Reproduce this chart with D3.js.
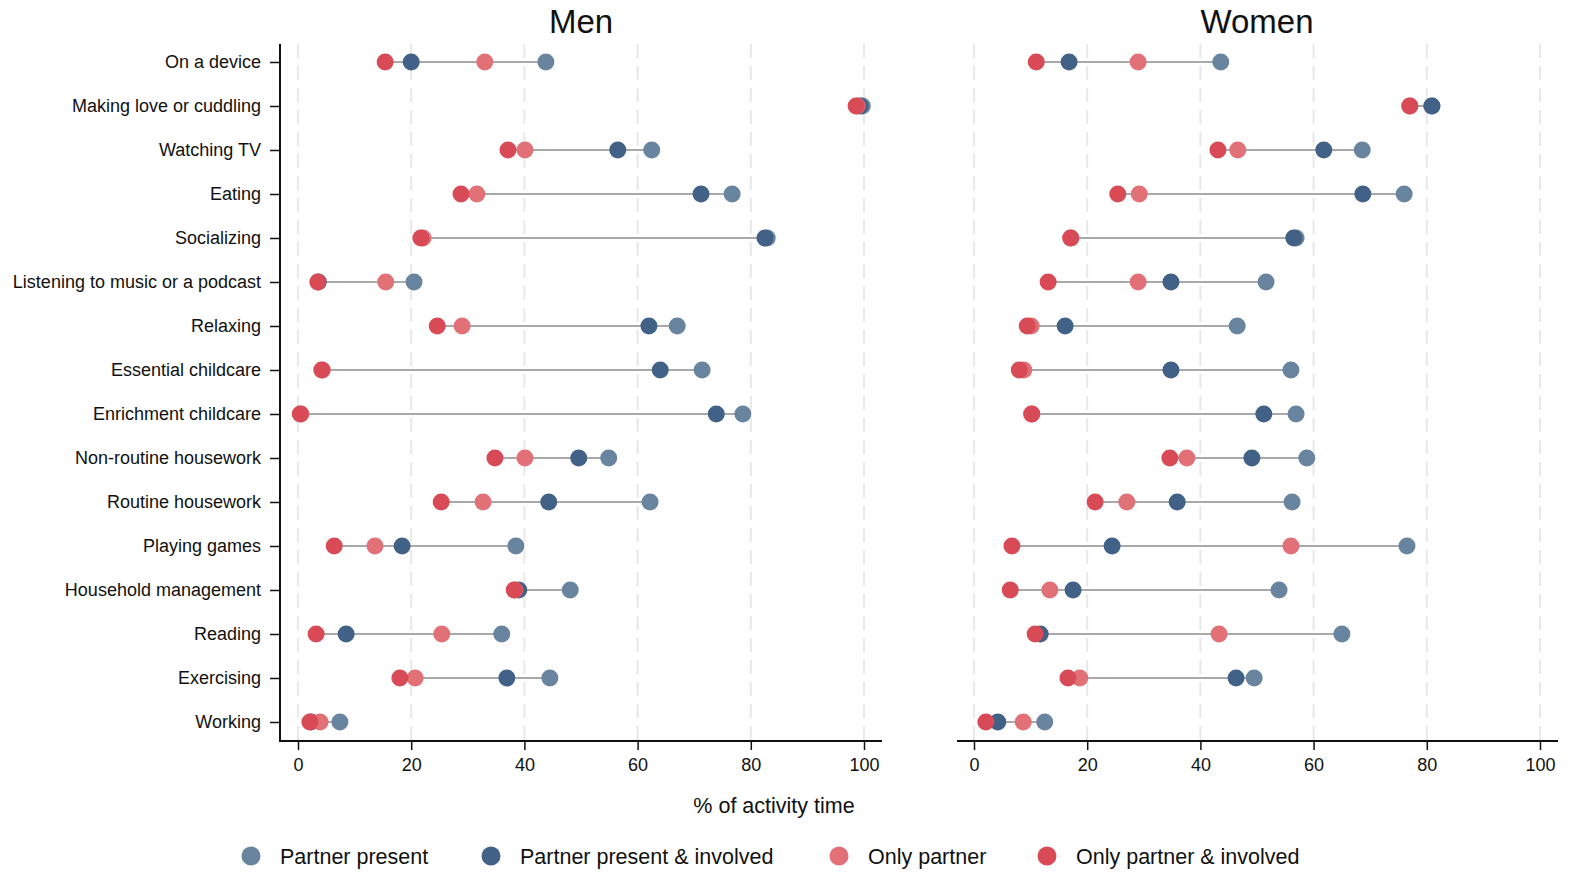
<html>
<head>
    <script src="https://d3js.org/d3.v7.min.js"></script>
    <style>
        html, body { margin: 0; padding: 0; background: #fff; overflow: hidden; }
        svg { display: block; }
        text { font-family: "Liberation Sans", Arial, sans-serif; fill: #111; }
    </style>
</head>
<body>
    <svg id="svgMain" width="1580" height="879"></svg>

    <script id="scriptMain">

        // data
        const activities = ["On a device", "Making love or cuddling", "Watching TV", "Eating", "Socializing",
            "Listening to music or a podcast", "Relaxing", "Essential childcare", "Enrichment childcare",
            "Non-routine housework", "Routine housework", "Playing games", "Household management",
            "Reading", "Exercising", "Working"];

        const seriesNames = ["Partner present", "Partner present & involved", "Only partner", "Only partner & involved"];
        const seriesColors = ["#69849e", "#426186", "#e27077", "#d84a55"];

        const menPresent = [43.8, 99.7, 62.5, 76.7, 82.9, 20.5, 67.0, 71.4, 78.6, 54.9, 62.2, 38.5, 48.1, 36.0, 44.5, 7.4];
        const menPresentInv = [20.0, 99.3, 56.5, 71.2, 82.5, 3.6, 62.0, 64.0, 73.9, 49.6, 44.3, 18.4, 39.0, 8.5, 36.9, 2.3];
        const menOnly = [33.0, 98.8, 40.1, 31.6, 22.1, 15.5, 29.0, 4.3, 0.5, 40.1, 32.7, 13.6, 38.3, 25.4, 20.7, 3.9];
        const menOnlyInv = [15.4, 98.6, 37.1, 28.8, 21.7, 3.5, 24.6, 4.2, 0.4, 34.8, 25.3, 6.4, 38.2, 3.2, 18.0, 2.1];

        const womenPresent = [43.6, 80.9, 68.6, 76.0, 56.9, 51.6, 46.5, 56.0, 56.9, 58.8, 56.2, 76.5, 53.9, 65.0, 49.5, 12.5];
        const womenPresentInv = [16.8, 80.9, 61.8, 68.7, 56.5, 34.8, 16.1, 34.8, 51.2, 49.1, 35.9, 24.4, 17.5, 11.7, 46.3, 4.2];
        const womenOnly = [29.0, 77.0, 46.6, 29.2, 17.1, 29.0, 10.1, 8.8, 10.2, 37.6, 27.0, 56.0, 13.4, 43.3, 18.7, 8.7];
        const womenOnlyInv = [11.0, 77.0, 43.1, 25.4, 17.1, 13.1, 9.4, 8.0, 10.2, 34.6, 21.4, 6.7, 6.4, 10.8, 16.6, 2.1];

        const xTicks = [0, 20, 40, 60, 80, 100];

        const panels = [
            { title: "Men", series: [menPresent, menPresentInv, menOnly, menOnlyInv], x0: 298, x1: 864, axL: 280, axR: 882, yAxis: true },
            { title: "Women", series: [womenPresent, womenPresentInv, womenOnly, womenOnlyInv], x0: 974, x1: 1540, axL: 957, axR: 1558, yAxis: false }
        ];

        const svg = d3.select("#svgMain");
        const plotTop = 44, plotBottom = 741;

        const y = d3.scalePoint()
            .domain(activities)
            .range([62, 722]);

        panels.forEach(p => {
            const x = d3.scaleLinear().domain([0, 100]).range([p.x0, p.x1]);
            const g = svg.append("g");

            // dashed grid
            g.selectAll(".grid")
                .data(xTicks)
                .join("line")
                .attr("x1", d => x(d)).attr("x2", d => x(d))
                .attr("y1", plotTop).attr("y2", plotBottom)
                .attr("stroke", "#e8e8e8")
                .attr("stroke-width", 2)
                .attr("stroke-dasharray", "14,8");

            // bottom axis
            const xAxis = g.append("g")
                .attr("transform", "translate(0," + plotBottom + ")")
                .call(d3.axisBottom(x).tickValues(xTicks).tickSize(9).tickPadding(8));
            xAxis.select(".domain").remove();
            xAxis.selectAll("line").attr("stroke", "#111").attr("stroke-width", 1.5);
            xAxis.selectAll("text").attr("font-size", 18).attr("font-family", "Liberation Sans, Arial, sans-serif").attr("fill", "#111");
            g.append("line")
                .attr("x1", p.axL).attr("x2", p.axR)
                .attr("y1", plotBottom).attr("y2", plotBottom)
                .attr("stroke", "#111").attr("stroke-width", 2);

            if (p.yAxis) {
                const yAxis = g.append("g")
                    .attr("transform", "translate(" + p.axL + ",0)")
                    .call(d3.axisLeft(y).tickSize(10).tickPadding(9));
                yAxis.select(".domain").remove();
                yAxis.selectAll("line").attr("stroke", "#111").attr("stroke-width", 1.5);
                yAxis.selectAll("text").attr("font-size", 18).attr("font-family", "Liberation Sans, Arial, sans-serif").attr("fill", "#111");
                g.append("line")
                    .attr("x1", p.axL).attr("x2", p.axL)
                    .attr("y1", plotTop).attr("y2", plotBottom + 1)
                    .attr("stroke", "#111").attr("stroke-width", 2);
            }

            // range lines
            g.selectAll(".rng")
                .data(activities)
                .join("line")
                .attr("x1", (d, i) => x(d3.min(p.series, s => s[i])))
                .attr("x2", (d, i) => x(d3.max(p.series, s => s[i])))
                .attr("y1", d => y(d)).attr("y2", d => y(d))
                .attr("stroke", "#a9a9a9")
                .attr("stroke-width", 2);

            // dots, red drawn last
            p.series.forEach((s, si) => {
                g.append("g")
                    .selectAll("circle")
                    .data(s)
                    .join("circle")
                    .attr("cx", d => x(d))
                    .attr("cy", (d, i) => y(activities[i]))
                    .attr("r", 8.5)
                    .attr("fill", seriesColors[si]);
            });

            g.append("text")
                .attr("x", (p.x0 + p.x1) / 2 + 0)
                .attr("y", 33)
                .attr("text-anchor", "middle")
                .attr("font-size", 33)
                .text(p.title);
        });

        svg.append("text")
            .attr("x", 774)
            .attr("y", 813)
            .attr("text-anchor", "middle")
            .attr("font-size", 21.5)
            .text("% of activity time");

        // legend
        const legendX = [251, 491, 839, 1047];
        const legend = svg.append("g")
            .selectAll("g")
            .data(seriesNames)
            .join("g")
            .attr("transform", (d, i) => "translate(" + legendX[i] + ",856)");
        legend.append("circle")
            .attr("r", 9.5)
            .attr("fill", (d, i) => seriesColors[i]);
        legend.append("text")
            .attr("x", 29)
            .attr("y", 7.5)
            .attr("font-size", 21.5)
            .text(d => d);

    </script>
</body>
</html>
